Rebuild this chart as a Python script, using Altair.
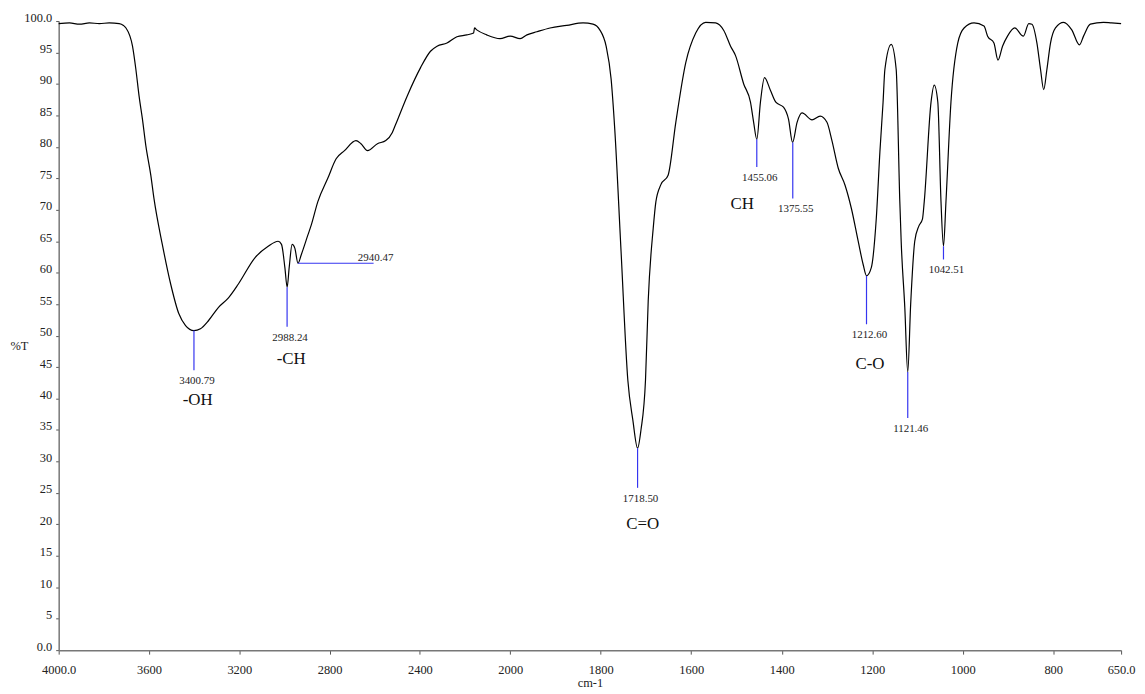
import altair as alt
import pandas as pd

# ---- spectrum (wavenumber cm-1, %T) ----
wavenumber = [4000, 3952, 3908, 3864, 3820, 3776, 3732, 3713, 3702, 3673, 3658, 3644, 3629, 3614, 3592,
              3578, 3541, 3504, 3468, 3438, 3401, 3372, 3336, 3292, 3248, 3204, 3130, 3072, 3028, 3013,
              2998, 2988, 2979, 2966, 2954, 2940, 2925, 2896, 2881, 2852, 2808, 2771, 2734, 2683, 2661,
              2632, 2588, 2551, 2522, 2508, 2456, 2397, 2353, 2324, 2280, 2236, 2192, 2162, 2158, 2148,
              2104, 2045, 2000, 1978, 1963, 1941, 1912, 1875, 1839, 1817, 1802, 1788, 1777, 1769, 1755,
              1740, 1729, 1718.5, 1711, 1701, 1695, 1684, 1678, 1667, 1651, 1634, 1612, 1590, 1568, 1546,
              1528, 1513, 1502, 1484, 1469, 1462, 1455, 1447, 1438, 1425, 1413, 1396, 1385, 1376, 1366,
              1355, 1333, 1315, 1300, 1289, 1275, 1260, 1246, 1231, 1220, 1212.6, 1202, 1191, 1183, 1176,
              1172, 1158, 1147, 1139, 1136, 1128, 1121.5, 1115, 1106, 1097, 1089, 1085, 1070, 1063, 1055,
              1048, 1042.5, 1037, 1026, 1011, 997, 975, 953, 945, 931, 922, 912, 901, 885, 866,
              854, 847, 836, 828, 821, 814, 806, 795, 777, 759, 742, 733, 718, 689, 671, 650]
transmittance = [99.6, 99.7, 99.5, 99.7, 99.6, 99.7, 99.6, 99.3, 98.9, 96.0, 92.3, 88.1, 84.4, 80.2, 75.5,
                 71.8, 64.5, 58.2, 53.5, 51.6, 50.8, 51.1, 52.4, 54.5, 56.0, 58.2, 62.4, 64.2, 65.0, 64.5,
                 60.8, 57.7, 60.8, 64.5, 63.9, 61.5, 62.9, 66.0, 67.6, 71.3, 75.0, 78.1, 79.4, 81.0, 80.5,
                 79.4, 80.5, 81.0, 82.3, 83.5, 88.1, 92.6, 95.2, 96.0, 96.5, 97.5, 97.8, 98.1, 98.9, 98.6,
                 97.8, 97.2, 97.6, 97.2, 97.8, 98.3, 98.9, 99.3, 99.7, 99.5, 98.6, 96.0, 90.8, 82.9, 63.4,
                 42.9, 36.6, 32.1, 35.0, 42.9, 55.5, 67.0, 71.3, 74.0, 75.5, 83.9, 93.4, 98.1, 99.8, 99.7,
                 98.5, 96.0, 94.5, 90.0, 87.1, 83.9, 81.2, 87.1, 91.0, 89.0, 87.1, 86.3, 84.4, 80.7, 83.9,
                 85.4, 84.3, 84.9, 83.9, 81.0, 76.6, 73.9, 70.2, 65.0, 61.3, 59.5, 60.8, 68.6, 79.2, 87.1,
                 92.3, 96.3, 92.3, 71.3, 65.0, 54.5, 44.2, 55.0, 65.0, 67.4, 68.5, 71.3, 87.1, 89.8, 87.1,
                 71.3, 64.2, 71.3, 87.1, 96.5, 98.9, 99.7, 99.2, 97.6, 96.5, 93.8, 96.0, 97.6, 98.9, 97.6,
                 99.6, 99.5, 96.5, 92.3, 89.1, 92.3, 96.5, 98.9, 99.8, 98.6, 96.2, 97.6, 99.5, 99.8, 99.7, 99.6]

# ---- peak annotations ----
peak_wn = [3400.79, 2988.24, 1718.50, 1455.06, 1375.55, 1212.60, 1121.46, 1042.51]
peak_T = [50.8, 57.7, 32.1, 81.2, 80.7, 59.5, 44.2, 64.2]
peak_end_T = [44.5, 51.4, 25.8, 76.8, 71.8, 51.8, 36.9, 62.1]

side_peak_wn = [2940.47]
side_peak_T = [61.5]
side_peak_end_wn = [2605]

group_labels = ["-OH", "-CH", "C=O", "CH", "C-O"]
group_wn = [3384, 2970, 1707, 1487, 1205]
group_T = [39.7, 46.2, 20.0, 70.9, 45.4]

x_ticks = [4000, 3600, 3200, 2800, 2400, 2000, 1800, 1600, 1400, 1200, 1000, 800, 650]
y_ticks = list(range(0, 101, 5))

spec = pd.DataFrame({"wn": wavenumber, "T": transmittance})
peaks = pd.DataFrame({"wn": peak_wn, "T": peak_T, "T2": peak_end_T,
                      "label": [f"{v:.2f}" for v in peak_wn]})
side = pd.DataFrame({"wn": side_peak_wn, "T": side_peak_T, "wn2": side_peak_end_wn,
                     "label": [f"{v:.2f}" for v in side_peak_wn]})
groups = pd.DataFrame({"wn": group_wn, "T": group_T, "label": group_labels})

W, H = 1069, 633
FONT = "Liberation Serif, Times New Roman, serif"
BLUE = "#3535f0"

xscale = alt.Scale(domain=[4000, 2000, 650], range=[0, 454.3, W], nice=False, zero=False)
yscale = alt.Scale(domain=[0, 100], nice=False, zero=False)

xaxis = alt.Axis(values=x_ticks, grid=False, title="cm-1", format="d",
                 labelExpr="datum.value == 4000 ? '4000.0' : datum.value == 650 ? '650.0' : datum.label",
                 tickSize=4, labelPadding=10, labelFontSize=12.5, labelFont=FONT, labelColor="#222",
                 labelOverlap=False,
                 titleFont=FONT, titleFontSize=12.5, titleFontWeight="normal", titleColor="#222",
                 titleY=33, titleBaseline="middle",
                 domainColor="#777", domainWidth=1.5, tickColor="#555", labelFlush=False)
yaxis = alt.Axis(values=y_ticks, grid=False, title="%T",
                 labelExpr="datum.value == 100 ? '100.0' : datum.value == 0 ? '0.0' : datum.label",
                 tickSize=3, labelPadding=4, labelFontSize=12.5, labelFont=FONT, labelColor="#222",
                 labelBaseline="alphabetic", labelOverlap=False,
                 titleFont=FONT, titleFontSize=12.5, titleFontWeight="normal", titleColor="#222",
                 titleAngle=0, titleAlign="left", titleBaseline="middle", titleX=-49, titleY=326,
                 domainColor="#777", domainWidth=1.5, tickColor="#555")


def X(field):
    return alt.X(field, type="quantitative", scale=xscale, axis=xaxis)


def Y(field):
    return alt.Y(field, type="quantitative", scale=yscale, axis=yaxis)


line = alt.Chart(spec).mark_line(color="black", strokeWidth=1.2, interpolate="monotone").encode(
    x=X("wn"), y=Y("T"))

vrules = alt.Chart(peaks).mark_rule(color=BLUE, strokeWidth=1.2).encode(
    x=X("wn"), y=Y("T"), y2="T2:Q")

vlabels = alt.Chart(peaks).mark_text(font=FONT, fontSize=11, color="#222", dx=3, dy=11,
                                     baseline="middle", align="center").encode(
    x=X("wn"), y=Y("T2"), text="label:N")

hrule = alt.Chart(side).mark_rule(color=BLUE, strokeWidth=1.2).encode(
    x=X("wn"), x2="wn2:Q", y=Y("T"))

hlabel = alt.Chart(side).mark_text(font=FONT, fontSize=11, color="#222", dx=2, dy=-5,
                                   baseline="middle", align="center").encode(
    x=X("wn2"), y=Y("T"), text="label:N")

glabels = alt.Chart(groups).mark_text(font=FONT, fontSize=17, color="#111",
                                      baseline="middle", align="center").encode(
    x=X("wn"), y=Y("T"), text="label:N")

chart = alt.layer(line, vrules, vlabels, hrule, hlabel, glabels).properties(
    width=W, height=H,
    autosize=alt.AutoSizeParams(type="none"),
    padding={"left": 51, "top": 11, "right": 16, "bottom": 40},
    view=alt.ViewBackground(stroke="transparent", strokeWidth=0),
).configure(
    background="white", font=FONT,
    view=alt.ViewConfig(stroke="transparent", strokeWidth=0),
)

chart.save("out.html", embed_options={"renderer": "svg", "actions": False})
